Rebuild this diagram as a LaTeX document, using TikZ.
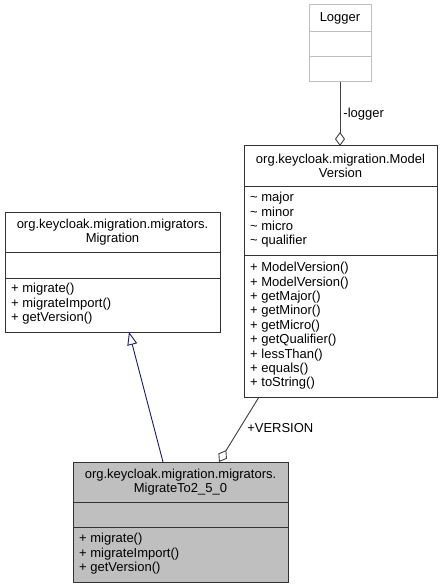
\documentclass[tikz,border=0pt]{standalone}
\usepackage{fontspec}
\setmainfont{Liberation Sans}
\usetikzlibrary{arrows.meta}
\definecolor{navyline}{HTML}{191970}
\definecolor{edgegray}{HTML}{404040}
\definecolor{classfill}{HTML}{BFBFBF}
\definecolor{lightframe}{HTML}{BFBFBF}
\tikzset{
  classframe/.style={draw=black!80,line width=1pt},
  classtitle/.style={align=center,inner sep=0pt,font=\fontsize{13}{14.5}\selectfont},
  members/.style={anchor=west,align=left,inner sep=0pt,font=\fontsize{13}{14.4}\selectfont},
  aggregation/.style={draw=edgegray,line width=.9pt,-{Diamond[open,length=14pt,width=10pt,line width=.9pt]}},
  realization/.style={draw=navyline,line width=.9pt,-{Triangle[open,length=13pt,width=10pt,line width=.9pt]}},
  edgelabel/.style={anchor=west,inner sep=0pt,font=\fontsize{13}{14}\selectfont}
}

\begin{document}
\begin{tikzpicture}[x=1pt,y=-1pt]
  \useasboundingbox (0,0) rectangle (442,588);
  \begin{scope}
    \draw[lightframe,line width=1pt] (309,5) rectangle (371,82) (309,32)--(371,32) (309,57)--(371,57);
    \node[classtitle] (logger) at (340,18.5) {Logger};
    \coordinate (loggerbot) at (340,82);
  \end{scope}
  \begin{scope}
    \draw[classframe,fill=white] (244,146) rectangle (437,397) (244,186)--(437,186) (244,255)--(437,255);
    \node[classtitle] (modelversion) at (340.5,166) {org.keycloak.migration.Model\\Version};
    \node[members] (modelattrs) at (250,220) {\textasciitilde\ major\\\textasciitilde\ minor\\\textasciitilde\ micro\\\textasciitilde\ qualifier};
    \node[members] (modelops) at (250,326) {+ ModelVersion()\\+ ModelVersion()\\+ getMajor()\\+ getMinor()\\+ getMicro()\\+ getQualifier()\\+ lessThan()\\+ equals()\\+ toString()};
    \coordinate (modeltop) at (340,146);
    \coordinate (modelbot) at (259,397);
  \end{scope}
  \begin{scope}
    \draw[classframe,fill=white] (5,212) rectangle (220,332) (5,252)--(220,252) (5,278)--(220,278);
    \node[classtitle] (migration) at (112.5,232) {org.keycloak.migration.migrators.\\Migration};
    \node[members] (migrationops) at (11,304) {+ migrate()\\+ migrateImport()\\+ getVersion()};
    \coordinate (migrationbot) at (129,332);
  \end{scope}
  \begin{scope}
    \draw[classframe,fill=classfill] (73,462) rectangle (288,582) (73,502)--(288,502) (73,527)--(288,527);
    \node[classtitle] (migrateto) at (180.5,482) {org.keycloak.migration.migrators.\\MigrateTo2\_5\_0};
    \node[members] (migratetoops) at (79,554) {+ migrate()\\+ migrateImport()\\+ getVersion()};
    \coordinate (migratetotop) at (163,462);
    \coordinate (versionend) at (219,462);
  \end{scope}
  \draw[aggregation] (loggerbot) -- (modeltop) node[edgelabel,pos=.5,xshift=3pt]{-logger};
  \draw[aggregation] (modelbot) -- (versionend) node[edgelabel,pos=.48,xshift=7pt]{+VERSION};
  \draw[realization] (migratetotop) -- (migrationbot);
\end{tikzpicture}
\end{document}
